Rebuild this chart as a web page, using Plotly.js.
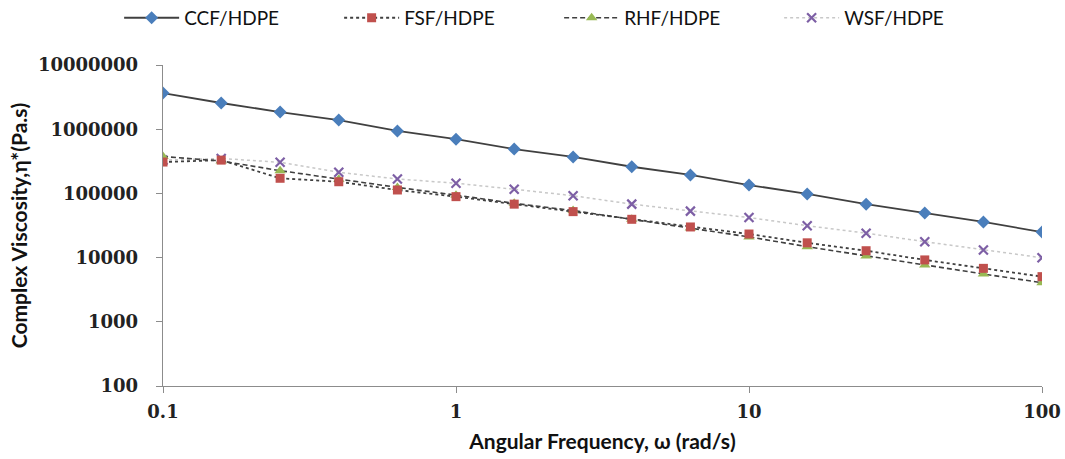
<!DOCTYPE html>
<html>
<head>
<meta charset="utf-8">
<script src="https://cdn.plot.ly/plotly-3.0.1.min.js"></script>
<style>html,body{margin:0;padding:0;background:#fff;}#chart{width:1065px;height:459px;}</style>
</head>
<body>
<div id="chart"></div>
<script>
const frequency = [0.1, 0.158, 0.251, 0.398, 0.631, 1, 1.58, 2.51, 3.98, 6.31, 10, 15.8, 25.1, 39.8, 63.1, 100];
const ccf = [3660000, 2560000, 1850000, 1390000, 940000, 700000, 490000, 370000, 260000, 194000, 135000, 98000, 68000, 49500, 36000, 25000];
const fsf = [308000, 330000, 172000, 152000, 113000, 89000, 68000, 52000, 39500, 30000, 23300, 17000, 12800, 9200, 6800, 5050];
const rhf = [375000, 320000, 226000, 166000, 124000, 94000, 70000, 54000, 39500, 29000, 21000, 14800, 10600, 7700, 5550, 4070];
const wsf = [330000, 350000, 305000, 213000, 168000, 144000, 116000, 92000, 68000, 53000, 42000, 31400, 24000, 17700, 13100, 9950];
const seriesNames = ["CCF/HDPE", "FSF/HDPE", "RHF/HDPE", "WSF/HDPE"];
const xTickVals = [0.1, 1, 10, 100];
const xTickText = ["0.1", "1", "10", "100"];
const yTickVals = [100, 1000, 10000, 100000, 1000000, 10000000];
const yTickText = ["100", "1000", "10000", "100000", "1000000", "10000000"];

const traces = [
  {x: frequency, y: ccf, name: seriesNames[0], mode: "lines+markers",
   line: {color: "#404040", width: 1.8},
   marker: {symbol: "diamond", size: 10, color: "#4a7ebb"}},
  {x: frequency, y: fsf, name: seriesNames[1], mode: "lines+markers",
   line: {color: "#404040", width: 1.8, dash: "dot"},
   marker: {symbol: "square", size: 9, color: "#c0504d"}},
  {x: frequency, y: rhf, name: seriesNames[2], mode: "lines+markers",
   line: {color: "#404040", width: 1.6, dash: "5px,3px"},
   marker: {symbol: "triangle-up", size: 10, color: "#98b954"}},
  {x: frequency, y: wsf, name: seriesNames[3], mode: "lines+markers",
   line: {color: "#c8c8c8", width: 1.5, dash: "dot"},
   marker: {symbol: "x-thin", size: 9, line: {color: "#7d5fa5", width: 2.2}, color: "#7d5fa5"}}
];
// draw CCF on top, WSF underneath
const ordered = [traces[3], traces[2], traces[1], traces[0]];

const tickFont = {family: "DejaVu Serif", size: 18, color: "#222", weight: "bold"};
const layout = {
  width: 1065, height: 459,
  margin: {l: 163, r: 23, t: 65, b: 73},
  paper_bgcolor: "#fff", plot_bgcolor: "#fff",
  showlegend: true,
  legend: {orientation: "h", traceorder: "reversed", xref: "container", yref: "container",
           x: 0.525, xanchor: "center", y: 0.961, yanchor: "middle",
           font: {family: "Lato", size: 19, color: "#111"}, itemwidth: 55,
           entrywidth: 150, entrywidthmode: "pixels"},
  xaxis: {type: "log", range: [-1, 2], tickvals: xTickVals, ticktext: xTickText,
          showgrid: false, zeroline: false, showline: true, linecolor: "#8c8c8c", linewidth: 1.3,
          ticks: "outside", ticklen: 6, tickcolor: "#8c8c8c", tickfont: tickFont, ticklabelstandoff: 3,
          title: {text: "<b>Angular Frequency, ω (rad/s)</b>", font: {family: "Lato", size: 21, color: "#111"}, standoff: 13}},
  yaxis: {type: "log", range: [2, 7], tickvals: yTickVals, ticktext: yTickText,
          showgrid: false, zeroline: false, showline: true, linecolor: "#8c8c8c", linewidth: 1.3,
          ticks: "outside", ticklen: 6, tickcolor: "#8c8c8c", tickfont: tickFont, ticklabelstandoff: 14,
          title: {text: "<b>Complex Viscosity,η*(Pa.s)</b>", font: {family: "Lato", size: 21, color: "#111"}, standoff: 4}}
};
Plotly.newPlot("chart", ordered, layout, {displayModeBar: false, staticPlot: true});
</script>
</body>
</html>
